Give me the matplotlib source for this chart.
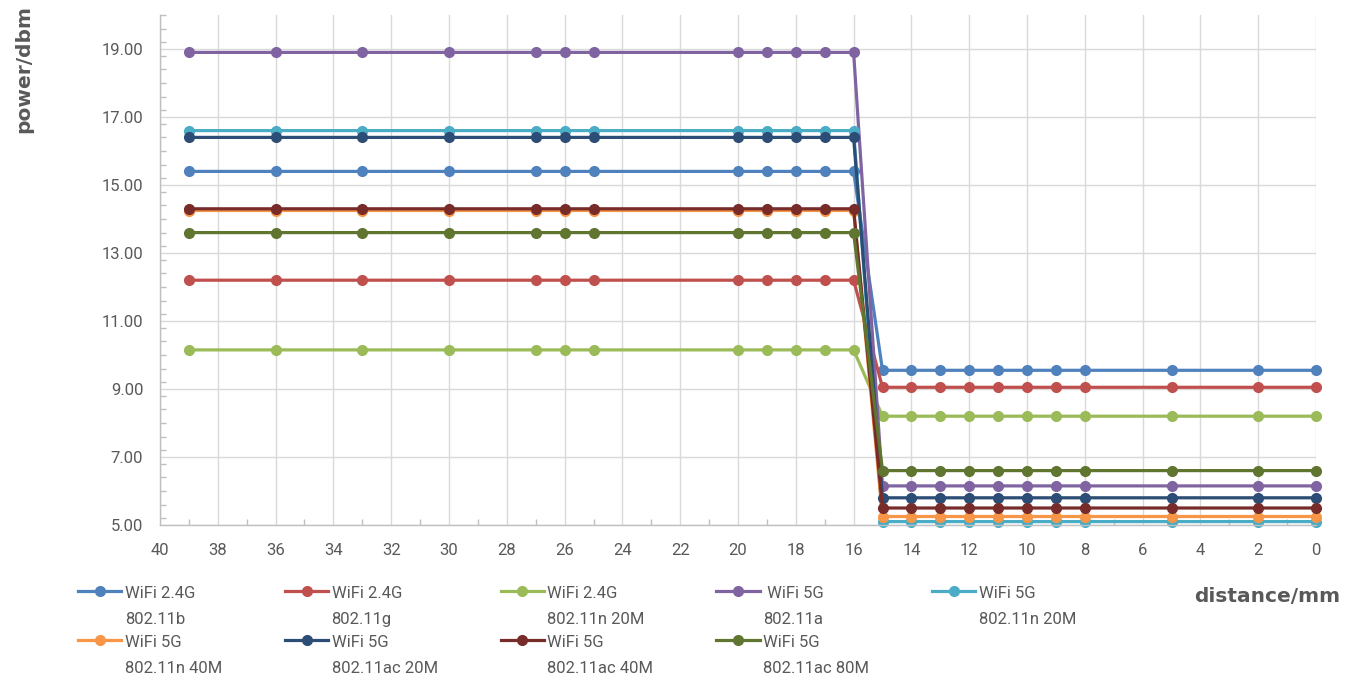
import matplotlib
matplotlib.use('Agg')
import matplotlib.pyplot as plt
from matplotlib.legend_handler import HandlerLine2D
from matplotlib.ticker import MultipleLocator, FixedLocator
import numpy as np

# DATEN
distance = [39, 36, 33, 30, 27, 26, 25, 20, 19, 18, 17, 16,
            15, 14, 13, 12, 11, 10, 9, 8, 5, 2, 0]

b_24 = [15.4, 15.4, 15.4, 15.4, 15.4, 15.4, 15.4, 15.4, 15.4, 15.4, 15.4, 15.4,
        9.55, 9.55, 9.55, 9.55, 9.55, 9.55, 9.55, 9.55, 9.55, 9.55, 9.55]
g_24 = [12.2, 12.2, 12.2, 12.2, 12.2, 12.2, 12.2, 12.2, 12.2, 12.2, 12.2, 12.2,
        9.05, 9.05, 9.05, 9.05, 9.05, 9.05, 9.05, 9.05, 9.05, 9.05, 9.05]
n20_24 = [10.15, 10.15, 10.15, 10.15, 10.15, 10.15, 10.15, 10.15, 10.15, 10.15, 10.15, 10.15,
          8.2, 8.2, 8.2, 8.2, 8.2, 8.2, 8.2, 8.2, 8.2, 8.2, 8.2]
a_5 = [18.9, 18.9, 18.9, 18.9, 18.9, 18.9, 18.9, 18.9, 18.9, 18.9, 18.9, 18.9,
       6.15, 6.15, 6.15, 6.15, 6.15, 6.15, 6.15, 6.15, 6.15, 6.15, 6.15]
n20_5 = [16.6, 16.6, 16.6, 16.6, 16.6, 16.6, 16.6, 16.6, 16.6, 16.6, 16.6, 16.6,
         5.1, 5.1, 5.1, 5.1, 5.1, 5.1, 5.1, 5.1, 5.1, 5.1, 5.1]
n40_5 = [14.25, 14.25, 14.25, 14.25, 14.25, 14.25, 14.25, 14.25, 14.25, 14.25, 14.25, 14.25,
         5.25, 5.25, 5.25, 5.25, 5.25, 5.25, 5.25, 5.25, 5.25, 5.25, 5.25]
ac20_5 = [16.4, 16.4, 16.4, 16.4, 16.4, 16.4, 16.4, 16.4, 16.4, 16.4, 16.4, 16.4,
          5.8, 5.8, 5.8, 5.8, 5.8, 5.8, 5.8, 5.8, 5.8, 5.8, 5.8]
ac40_5 = [14.3, 14.3, 14.3, 14.3, 14.3, 14.3, 14.3, 14.3, 14.3, 14.3, 14.3, 14.3,
          5.5, 5.5, 5.5, 5.5, 5.5, 5.5, 5.5, 5.5, 5.5, 5.5, 5.5]
ac80_5 = [13.6, 13.6, 13.6, 13.6, 13.6, 13.6, 13.6, 13.6, 13.6, 13.6, 13.6, 13.6,
          6.6, 6.6, 6.6, 6.6, 6.6, 6.6, 6.6, 6.6, 6.6, 6.6, 6.6]

serien = [b_24, g_24, n20_24, a_5, n20_5, n40_5, ac20_5, ac40_5, ac80_5]
namen = ['WiFi 2.4G\n802.11b', 'WiFi 2.4G\n802.11g', 'WiFi 2.4G\n802.11n 20M',
         ' WiFi 5G\n802.11a', 'WiFi 5G\n802.11n 20M', 'WiFi 5G\n802.11n 40M',
         'WiFi 5G\n802.11ac 20M', 'WiFi 5G\n802.11ac 40M', 'WiFi 5G\n802.11ac 80M']
farben = ['#4F81BD', '#C0504D', '#9BBB59', '#8064A2', '#4BACC6',
          '#F79646', '#2C4D75', '#772C2A', '#5F7530']

TXT = '#595959'
LINESP = 1.9
plt.rcParams['font.family'] = ['Roboto', 'DejaVu Sans']


class ObenHandler(HandlerLine2D):
    # Linie auf Höhe der ersten Textzeile schieben
    def create_artists(self, legend, orig_handle, xdescent, ydescent,
                       width, height, fontsize, trans):
        arts = super().create_artists(legend, orig_handle, xdescent, ydescent,
                                      width, height, fontsize, trans)
        for a in arts:
            a.set_ydata(np.asarray(a.get_ydata()) + 0.72 * fontsize * LINESP / 1.45)
        return arts


fig = plt.figure(figsize=(13.59, 6.8), dpi=100)
ax = fig.add_axes([160 / 1359, 1 - 525 / 680, 1156 / 1359, 510 / 680])

linien = []
for werte, name, farbe in zip(serien, namen, farben):
    ln, = ax.plot(distance, werte, color=farbe, linewidth=2.3, marker='o',
                  markersize=7, label=name, clip_on=False)
    linien.append(ln)

ax.set_xlim(40, 0)
ax.set_ylim(5, 20)
ax.xaxis.set_major_locator(MultipleLocator(2))
ax.xaxis.set_minor_locator(MultipleLocator(1))
ax.yaxis.set_major_locator(FixedLocator([5, 7, 9, 11, 13, 15, 17, 19]))
ax.yaxis.set_minor_locator(MultipleLocator(0.4))
ax.yaxis.set_major_formatter(matplotlib.ticker.FormatStrFormatter('%.2f'))

ax.grid(True, which='major', color='#D9D9D9', linewidth=1.0)
ax.set_axisbelow(True)
for s in ['top', 'right']:
    ax.spines[s].set_visible(False)
for s in ['left', 'bottom']:
    ax.spines[s].set_color('#BFBFBF')
    ax.spines[s].set_linewidth(1.0)

ax.tick_params(axis='both', which='major', length=0, labelsize=12, labelcolor=TXT)
ax.tick_params(axis='y', which='major', pad=12)
ax.tick_params(axis='x', which='major', pad=13)
ax.tick_params(axis='both', which='minor', direction='in', length=4,
               color='#BFBFBF', width=1.0)

fig.text(24 / 1359, 1 - 69 / 680, 'power/dbm', rotation=90, ha='center', va='center',
         fontsize=14.5, fontweight='bold', color=TXT, family='DejaVu Sans')
fig.text(1267 / 1359, 1 - 596 / 680, 'distance/mm', ha='center', va='center',
         fontsize=14.5, fontweight='bold', color=TXT, family='DejaVu Sans')

# Reihenfolge so, dass Zeilen wie im Original gefüllt werden
reihenfolge = [0, 5, 1, 6, 2, 7, 3, 8, 4]
leg = fig.legend([linien[i] for i in reihenfolge], [namen[i] for i in reihenfolge],
                 loc='upper left', ncol=5, frameon=False, fontsize=12,
                 bbox_to_anchor=(78 / 1359, 1 - 593 / 680, (1076 - 78) / 1359, 0.01),
                 mode='expand', borderpad=0, borderaxespad=0, handlelength=2.6,
                 handletextpad=0.2, labelspacing=0.5, columnspacing=1.0,
                 handler_map={matplotlib.lines.Line2D: ObenHandler()})
for t in leg.get_texts():
    t.set_color(TXT)
    t.set_linespacing(LINESP)

fig.savefig('out.png', dpi=100)
